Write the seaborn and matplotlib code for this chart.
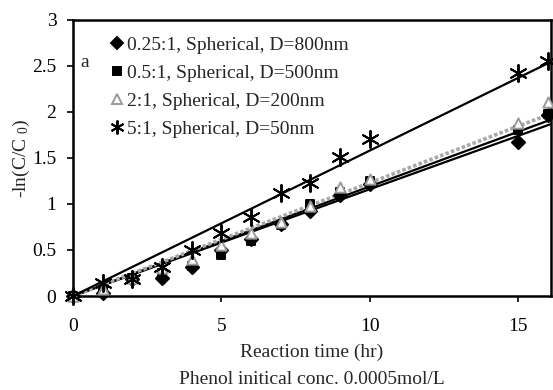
import numpy as np
import pandas as pd
import seaborn as sns
import matplotlib
matplotlib.use("Agg")
import matplotlib.pyplot as plt
from matplotlib.lines import Line2D

# Reaction time (hr)
times = [0, 1, 2, 3, 4, 5, 6, 7, 8, 9, 10, 15, 16]

# -ln(C/C0) for each catalyst
ratio_025 = [0, 0.03, 0.18, 0.20, 0.31, 0.50, 0.62, 0.78, 0.92, 1.10, 1.22, 1.67, 1.97]
ratio_05 = [0, 0.05, 0.20, 0.25, 0.33, 0.45, 0.60, 0.77, 1.00, 1.13, 1.25, 1.80, 1.98]
ratio_2 = [0, 0.08, 0.20, 0.30, 0.40, 0.55, 0.68, 0.80, 0.98, 1.18, 1.27, 1.88, 2.11]
ratio_5 = [0, 0.14, 0.18, 0.31, 0.50, 0.68, 0.86, 1.12, 1.23, 1.51, 1.71, 2.42, 2.55]

labels = ["0.25:1, Spherical, D=800nm", "0.5:1, Spherical, D=500nm",
          "2:1, Spherical, D=200nm", "5:1, Spherical, D=50nm"]

# First-order rate constants (slopes of the linear fits through the origin)
fit_slopes = [0.116, 0.119, 0.123, 0.158]

sns.set_theme(style="white")
plt.rcParams["font.family"] = ["Liberation Serif", "DejaVu Serif"]
plt.rcParams["mathtext.fontset"] = "custom"
plt.rcParams["mathtext.rm"] = "Liberation Serif"
plt.rcParams["mathtext.it"] = "Liberation Serif"

fig = plt.figure(figsize=(5.53, 3.90), dpi=100)
ax = fig.add_axes([0.132, 0.241, 0.864, 0.708])

xmax = 16.1
x_fit = np.array([0, xmax])

styles = [
    dict(marker="D", color="black", edge="black", size=45, lw=1.6, ls="-", lc="black", ms=6),
    dict(marker="s", color="black", edge="black", size=40, lw=1.6, ls="-", lc="black", ms=6),
    dict(marker="^", color="white", edge="#9a9a9a", size=55, lw=2.6, ls=(0, (1, 0.6)), lc="#a8a8a8", ms=7),
    dict(marker=(6, 2, 0), color="black", edge="black", size=150, lw=1.6, ls="-", lc="black", ms=10),
]
series = [ratio_025, ratio_05, ratio_2, ratio_5]

handles = []
for vals, lab, slope, st in zip(series, labels, fit_slopes, styles):
    fit = pd.DataFrame({"t": x_fit, "y": slope * x_fit})
    sns.lineplot(data=fit, x="t", y="y", ax=ax, color=st["lc"], lw=st["lw"],
                 linestyle=st["ls"], legend=False, zorder=2)
    df = pd.DataFrame({"t": times, "y": vals})
    sns.scatterplot(data=df, x="t", y="y", ax=ax, marker=st["marker"], s=st["size"],
                    color=st["color"], edgecolor=st["edge"], linewidth=1.4,
                    legend=False, zorder=3, clip_on=False)
    handles.append(Line2D([], [], linestyle="none", marker=st["marker"],
                          markersize=st["ms"],
                          markerfacecolor=st["color"], markeredgecolor=st["edge"],
                          markeredgewidth=1.4, label=lab))

ax.set_xlim(0, xmax)
ax.set_ylim(0, 3)
ax.set_xticks([0, 5, 10, 15])
ax.set_yticks([0, 0.5, 1, 1.5, 2, 2.5, 3])
ax.set_yticklabels(["0", "0.5", "1", "1.5", "2", "2.5", "3"])
ax.tick_params(axis="both", direction="out", length=4, width=1.2, labelsize=14,
               colors="black", bottom=True, left=True)
ax.tick_params(axis="x", pad=12)
ax.tick_params(axis="y", pad=8)
for sp in ax.spines.values():
    sp.set_color("black")
    sp.set_linewidth(1.8)

ax.set_xlabel("Reaction time (hr)\nPhenol initical conc. 0.0005mol/L",
              fontsize=14, linespacing=1.8, labelpad=6)
ax.set_ylabel("-ln(C/C $_0$)", fontsize=14, labelpad=0)

ax.text(0.025, 0.844, "a", transform=ax.transAxes, fontsize=14, ha="center", va="center")

ax.legend(handles=handles, loc="upper left", bbox_to_anchor=(0.052, 0.989),
          frameon=False, fontsize=14, handlelength=0.6, handletextpad=0.2,
          labelspacing=0.53, borderaxespad=0.3)

fig.savefig("out.png", dpi=100)
